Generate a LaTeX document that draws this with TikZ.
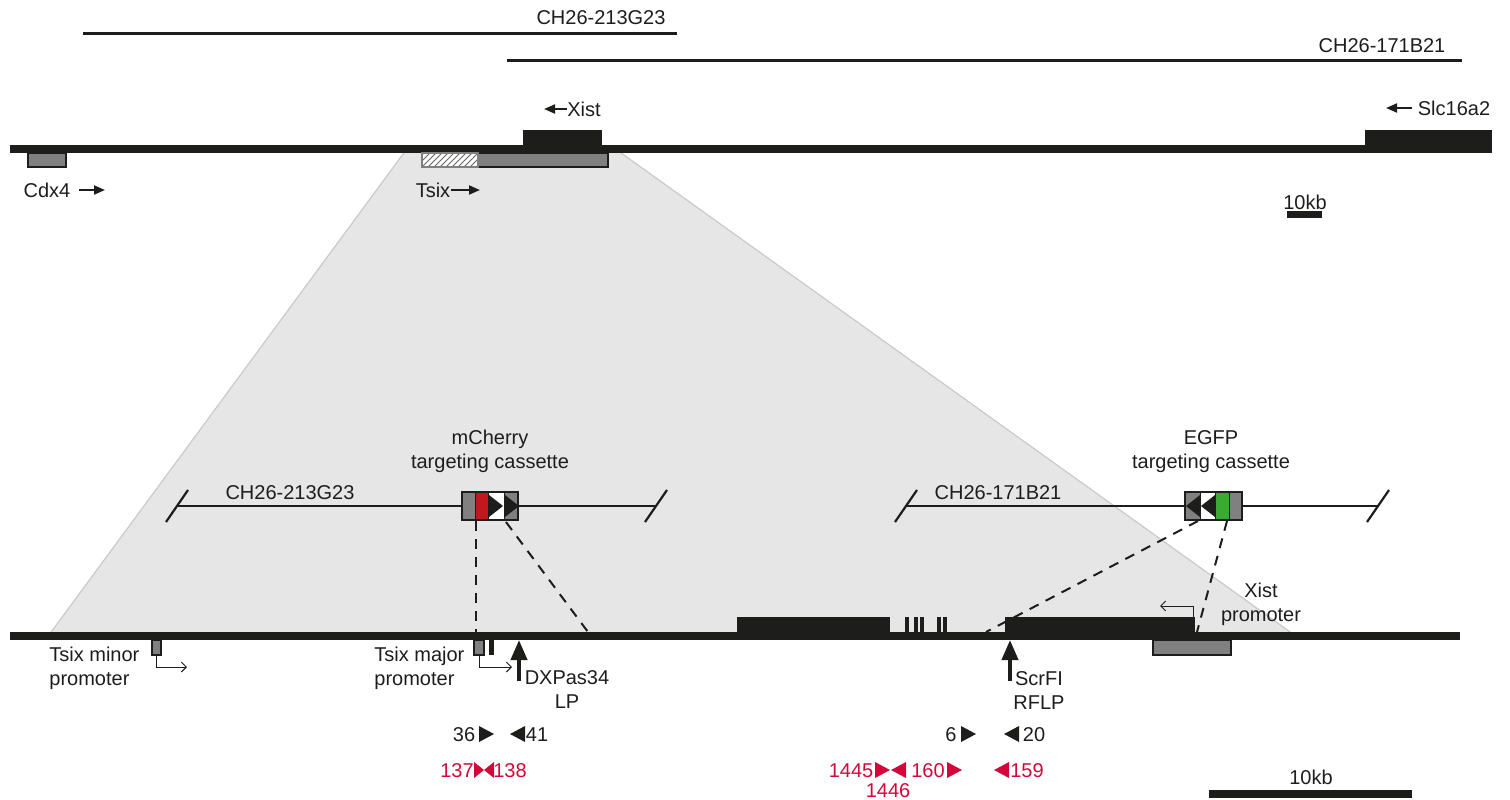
\documentclass[tikz,border=0pt]{standalone}
\usepackage{fontspec}
\setmainfont{Liberation Sans}
\usepackage{xcolor}
\usepackage{tikz}
\usetikzlibrary{calc,arrows.meta,patterns}
\definecolor{ink}{HTML}{1D1D1B}
\definecolor{exon}{HTML}{808080}
\definecolor{zoomfill}{HTML}{E6E6E6}
\definecolor{zoomedge}{HTML}{CACACA}
\definecolor{cherry}{HTML}{C1181E}
\definecolor{gfp}{HTML}{3BAA34}
\definecolor{primer}{HTML}{D2083A}
\tikzset{
  chrom/.style={draw=ink, line width=4pt},
  bac/.style={draw=ink, line width=1.5pt},
  arm/.style={draw=ink, line width=1.3pt},
  brk/.style={draw=ink, line width=1.1pt},
  link/.style={draw=ink, line width=1pt, dash pattern=on 5pt off 4pt},
  gene/.style={fill=ink},
  exonbox/.style={draw=ink, fill=exon, line width=0.6pt},
  seg/.style={draw=ink, line width=0.5pt},
  lab/.style={text=ink, font=\fontsize{10}{12}\selectfont, inner sep=0pt, text height=7.2pt, text depth=0pt},
  lab2/.style={text=ink, font=\fontsize{10}{12}\selectfont, inner sep=0pt, anchor=north},
  labr/.style={lab, text=primer},
  dir/.style={draw=ink, line width=1pt, -{Stealth[length=5.5pt,width=4.5pt,inset=0pt]}},
  tss/.style={draw=ink, line width=0.45pt, -{Straight Barb[length=2.5pt,width=5pt]}},
  site/.style={draw=ink, line width=2pt, -{Triangle[length=10pt,width=8pt]}},
}
\begin{document}
\begin{tikzpicture}[x=0.5pt,y=-0.5pt]
  \useasboundingbox (0,0) rectangle (1510,799);
  \coordinate (Z1) at (406,150);
  \coordinate (Z2) at (617,150);
  \coordinate (Z3) at (1300,639);
  \coordinate (Z4) at (46,639);
  \fill[zoomfill] (Z1) -- (Z2) -- (Z3) -- (Z4) -- cycle;
  \draw[zoomedge, line width=0.6pt] (Z1) -- (Z4) (Z2) -- (Z3);

  \coordinate (bA1) at (83,33);  \coordinate (bA2) at (677,33);
  \coordinate (bB1) at (507,60); \coordinate (bB2) at (1462,60);
  \draw[bac] (bA1) -- (bA2);
  \draw[bac] (bB1) -- (bB2);
  \node[lab] (bAlab) at (601,17) {CH26-213G23};
  \node[lab] (bBlab) at (1382,45) {CH26-171B21};

  \coordinate (L1) at (10,149); \coordinate (L2) at (1492,149);
  \fill[gene] (523,130) rectangle (602,149);
  \fill[gene] (1365,130) rectangle (1492,149);
  \draw[chrom] (L1) -- (L2);
  \draw[exonbox] (28,153) rectangle (66,167);
  \draw[exonbox] (478,153) rectangle (608,167);
  \fill[white] (422,153) rectangle (478,167);
  \fill[pattern=north east lines, pattern color=exon!120] (422,153) rectangle (478,167);
  \draw[exon, line width=0.6pt] (422,153) rectangle (478,167);

  \node[lab] (cdx) at (47,190) {Cdx4};
  \coordinate (cdxtip) at (105,190);
  \draw[dir] ($(cdx.east)+(8,0)$) -- (cdxtip);
  \node[lab] (tsix) at (433,190) {Tsix};
  \coordinate (tsixtip) at (480,190);
  \draw[dir] (tsix.east) -- (tsixtip);
  \node[lab] (xist) at (584,109) {Xist};
  \coordinate (xisttip) at (544,109);
  \draw[dir] (xist.west) -- (xisttip);
  \node[lab] (slc) at (1454,108) {Slc16a2};
  \coordinate (slctip) at (1386,108);
  \draw[dir] ($(slc.west)+(-5,0)$) -- (slctip);
  \node[lab] (kbA) at (1305,202) {10kb};
  \fill[gene] (1287,211) rectangle (1322,218);

  \coordinate (aL) at (177,506); \coordinate (aR) at (656,506);
  \coordinate (cL) at (906,506); \coordinate (cR) at (1378,506);
  \draw[arm] (aL) -- (aR);
  \draw[arm] (cL) -- (cR);
  \foreach \c in {aL,aR,cL,cR}
    \draw[brk] ($(\c)+(-11,16)$) -- ($(\c)+(11,-16)$);
  \node[lab] (armA) at (290,492) {CH26-213G23};
  \node[lab] (armC) at (998,492) {CH26-171B21};

  \foreach \a/\b/\col in {462/475/exon,475/488/cherry,488/504/white,504/518/exon,
                          1185/1200/exon,1200/1215/white,1215/1229/gfp,1229/1242/exon}
    \filldraw[seg, fill=\col] (\a,492) rectangle (\b,520);
  \foreach \x/\d in {489/1,505/1,1200/-1,1215/-1}
    \fill[ink] (\x,495) -- ++({14*\d},11) -- ++({-14*\d},11) -- cycle;
  \draw[ink, line width=1pt] (462,492) rectangle (518,520);
  \draw[ink, line width=1pt] (1185,492) rectangle (1242,520);
  \node[lab2, align=center] (mchlab) at (490,430) {mCherry\\targeting cassette};
  \node[lab2, align=center] (egfplab) at (1211,430) {EGFP\\targeting cassette};

  \coordinate (dA1) at (476,521);  \coordinate (dA2) at (476,632);
  \coordinate (dB1) at (506,522);  \coordinate (dB2) at (588,632);
  \coordinate (dC1) at (1198,521); \coordinate (dC2) at (986,632);
  \coordinate (dD1) at (1227,521); \coordinate (dD2) at (1197,632);
  \foreach \s/\e in {dA1/dA2,dB1/dB2,dC1/dC2,dD1/dD2}
    \draw[link] (\s) -- (\e);

  \coordinate (M1) at (10,636); \coordinate (M2) at (1460,636);
  \fill[gene] (737,617) rectangle (890,636);
  \foreach \a in {905,914,920,937,943}
    \fill[gene] (\a,617) rectangle ++(4,19);
  \fill[gene] (1005,617) rectangle (1195,636);
  \draw[chrom] (M1) -- (M2);

  \draw[exonbox] (152,640) rectangle (161,655);
  \draw[exonbox] (474,640) rectangle (484,655);
  \fill[gene] (489,640) rectangle (494,655);
  \draw[exonbox] (1153,640) rectangle (1231,655);
  \coordinate (tssA) at (156,655);  \coordinate (tssAt) at (187,667);
  \coordinate (tssB) at (479,655);  \coordinate (tssBt) at (512,667);
  \coordinate (tssC) at (1193,617); \coordinate (tssCt) at (1160,606);
  \foreach \s/\e in {tssA/tssAt,tssB/tssBt,tssC/tssCt}
    \draw[tss] (\s) |- (\e);

  \coordinate (dxp) at (519,681);  \coordinate (dxptip) at (519,640);
  \coordinate (scr) at (1010,681); \coordinate (scrtip) at (1010,640);
  \draw[site] (dxp) -- (dxptip);
  \draw[site] (scr) -- (scrtip);

  \node[lab2, align=left, anchor=north west] (tminor) at (49,647) {Tsix minor\\promoter};
  \node[lab2, align=left, anchor=north west] (tmajor) at (374,647) {Tsix major\\promoter};
  \node[lab2, align=center] (dxplab) at (567,670) {DXPas34\\LP};
  \node[lab2, align=center] (scrlab) at (1039,671) {ScrFI\\RFLP};
  \node[lab2, align=center] (xprom) at (1261,583) {Xist\\promoter};

  \foreach \x/\d in {479/1,525/-1,961/1,1019/-1}
    \fill[ink] (\x,726) -- ++({15*\d},8) -- ++({-15*\d},8) -- cycle;
  \foreach \x/\d/\w in {474/1/10,494/-1/10,875/1/15,906/-1/15,947/1/15,1009/-1/15}
    \fill[primer] (\x,762) -- ++({\w*\d},8) -- ++({-\w*\d},8) -- cycle;
  \foreach \n/\x in {36/464,41/537,6/951,20/1034}
    \node[lab] (p\n) at (\x,734) {\n};
  \foreach \n/\x in {137/457,138/510,1445/851,160/928,159/1027}
    \node[labr] (p\n) at (\x,770) {\n};
  \node[labr] (p1446) at (888,790) {1446};

  \node[lab] (kbB) at (1311,777) {10kb};
  \fill[gene] (1209,790) rectangle (1412,798);
\end{tikzpicture}
\end{document}
